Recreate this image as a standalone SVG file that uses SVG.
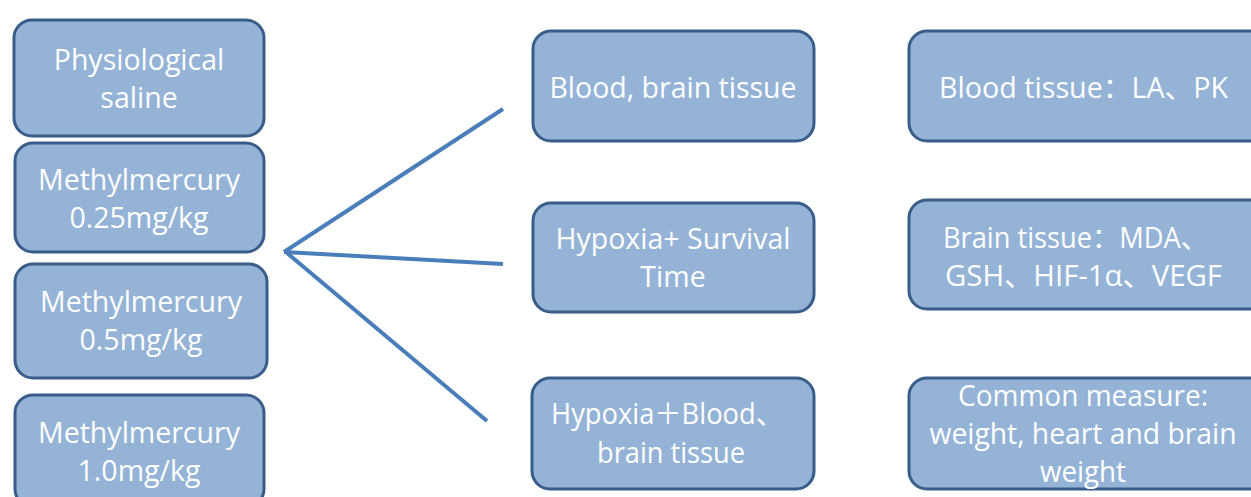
<svg xmlns="http://www.w3.org/2000/svg" width="1251" height="497" viewBox="0 0 1251 497">
<style>
.box{fill:#95B3D7;stroke:#385D8A;stroke-width:3}
.t{fill:#FFFFFF;font-family:"Open Sans","Noto Sans CJK SC",sans-serif;font-size:28.5px;text-anchor:middle;font-variant-ligatures:none}
.ts{text-anchor:start}
.c{stroke:#4A7EBB;stroke-width:4;fill:none;stroke-linecap:butt}
</style>
<rect width="1251" height="497" fill="#FFFFFF"/>
<g id="connectors">
<line class="c" x1="284" y1="252" x2="503" y2="109"/>
<line class="c" x1="284" y1="252" x2="503" y2="264"/>
<line class="c" x1="287" y1="253" x2="487" y2="421"/>
</g>
<g id="n1"><rect class="box" x="14" y="20" width="250" height="116" rx="18"/>
<text class="t" x="139" y="70">Physiological</text><text class="t" x="139" y="108">saline</text></g>
<g id="n2"><rect class="box" x="15" y="143" width="249" height="109" rx="18"/>
<text class="t" x="139" y="190">Methylmercury</text><text class="t" x="139" y="228">0.25mg/kg</text></g>
<g id="n3"><rect class="box" x="15" y="264" width="252" height="114" rx="18"/>
<text class="t" x="141" y="312">Methylmercury</text><text class="t" x="141" y="350">0.5mg/kg</text></g>
<g id="n4"><rect class="box" x="15" y="395" width="249" height="112" rx="18"/>
<text class="t" x="139" y="443">Methylmercury</text><text class="t" x="139" y="481">1.0mg/kg</text></g>
<g id="m1"><rect class="box" x="533" y="31" width="281" height="110" rx="18"/>
<text class="t" x="673" y="98">Blood, brain tissue</text></g>
<g id="m2"><rect class="box" x="533" y="203" width="281" height="109" rx="18"/>
<text class="t" x="673" y="249">Hypoxia+ Survival</text><text class="t" x="673" y="287">Time</text></g>
<g id="m3"><rect class="box" x="532" y="378" width="282" height="111" rx="18"/>
<text class="t ts" x="551" y="424" textLength="232" lengthAdjust="spacingAndGlyphs">Hypoxia＋Blood、</text><text class="t" x="671" y="463" textLength="148" lengthAdjust="spacingAndGlyphs">brain tissue</text></g>
<g id="r1"><rect class="box" x="909" y="31" width="360" height="110" rx="18"/>
<text class="t ts" x="939" y="98" textLength="289" lengthAdjust="spacingAndGlyphs">Blood tissue：LA、PK</text></g>
<g id="r2"><rect class="box" x="909" y="200" width="360" height="109" rx="18"/>
<text class="t ts" x="943" y="248" textLength="265" lengthAdjust="spacingAndGlyphs">Brain tissue：MDA、</text><text class="t ts" x="945" y="286" textLength="277" lengthAdjust="spacingAndGlyphs">GSH、HIF-1α、VEGF</text></g>
<g id="r3"><rect class="box" x="909" y="378" width="360" height="111" rx="18"/>
<text class="t" x="1083" y="406" textLength="250" lengthAdjust="spacingAndGlyphs">Common measure:</text><text class="t" x="1083" y="444" textLength="307" lengthAdjust="spacingAndGlyphs">weight, heart and brain</text><text class="t" x="1083" y="482" textLength="86" lengthAdjust="spacingAndGlyphs">weight</text></g>
</svg>
